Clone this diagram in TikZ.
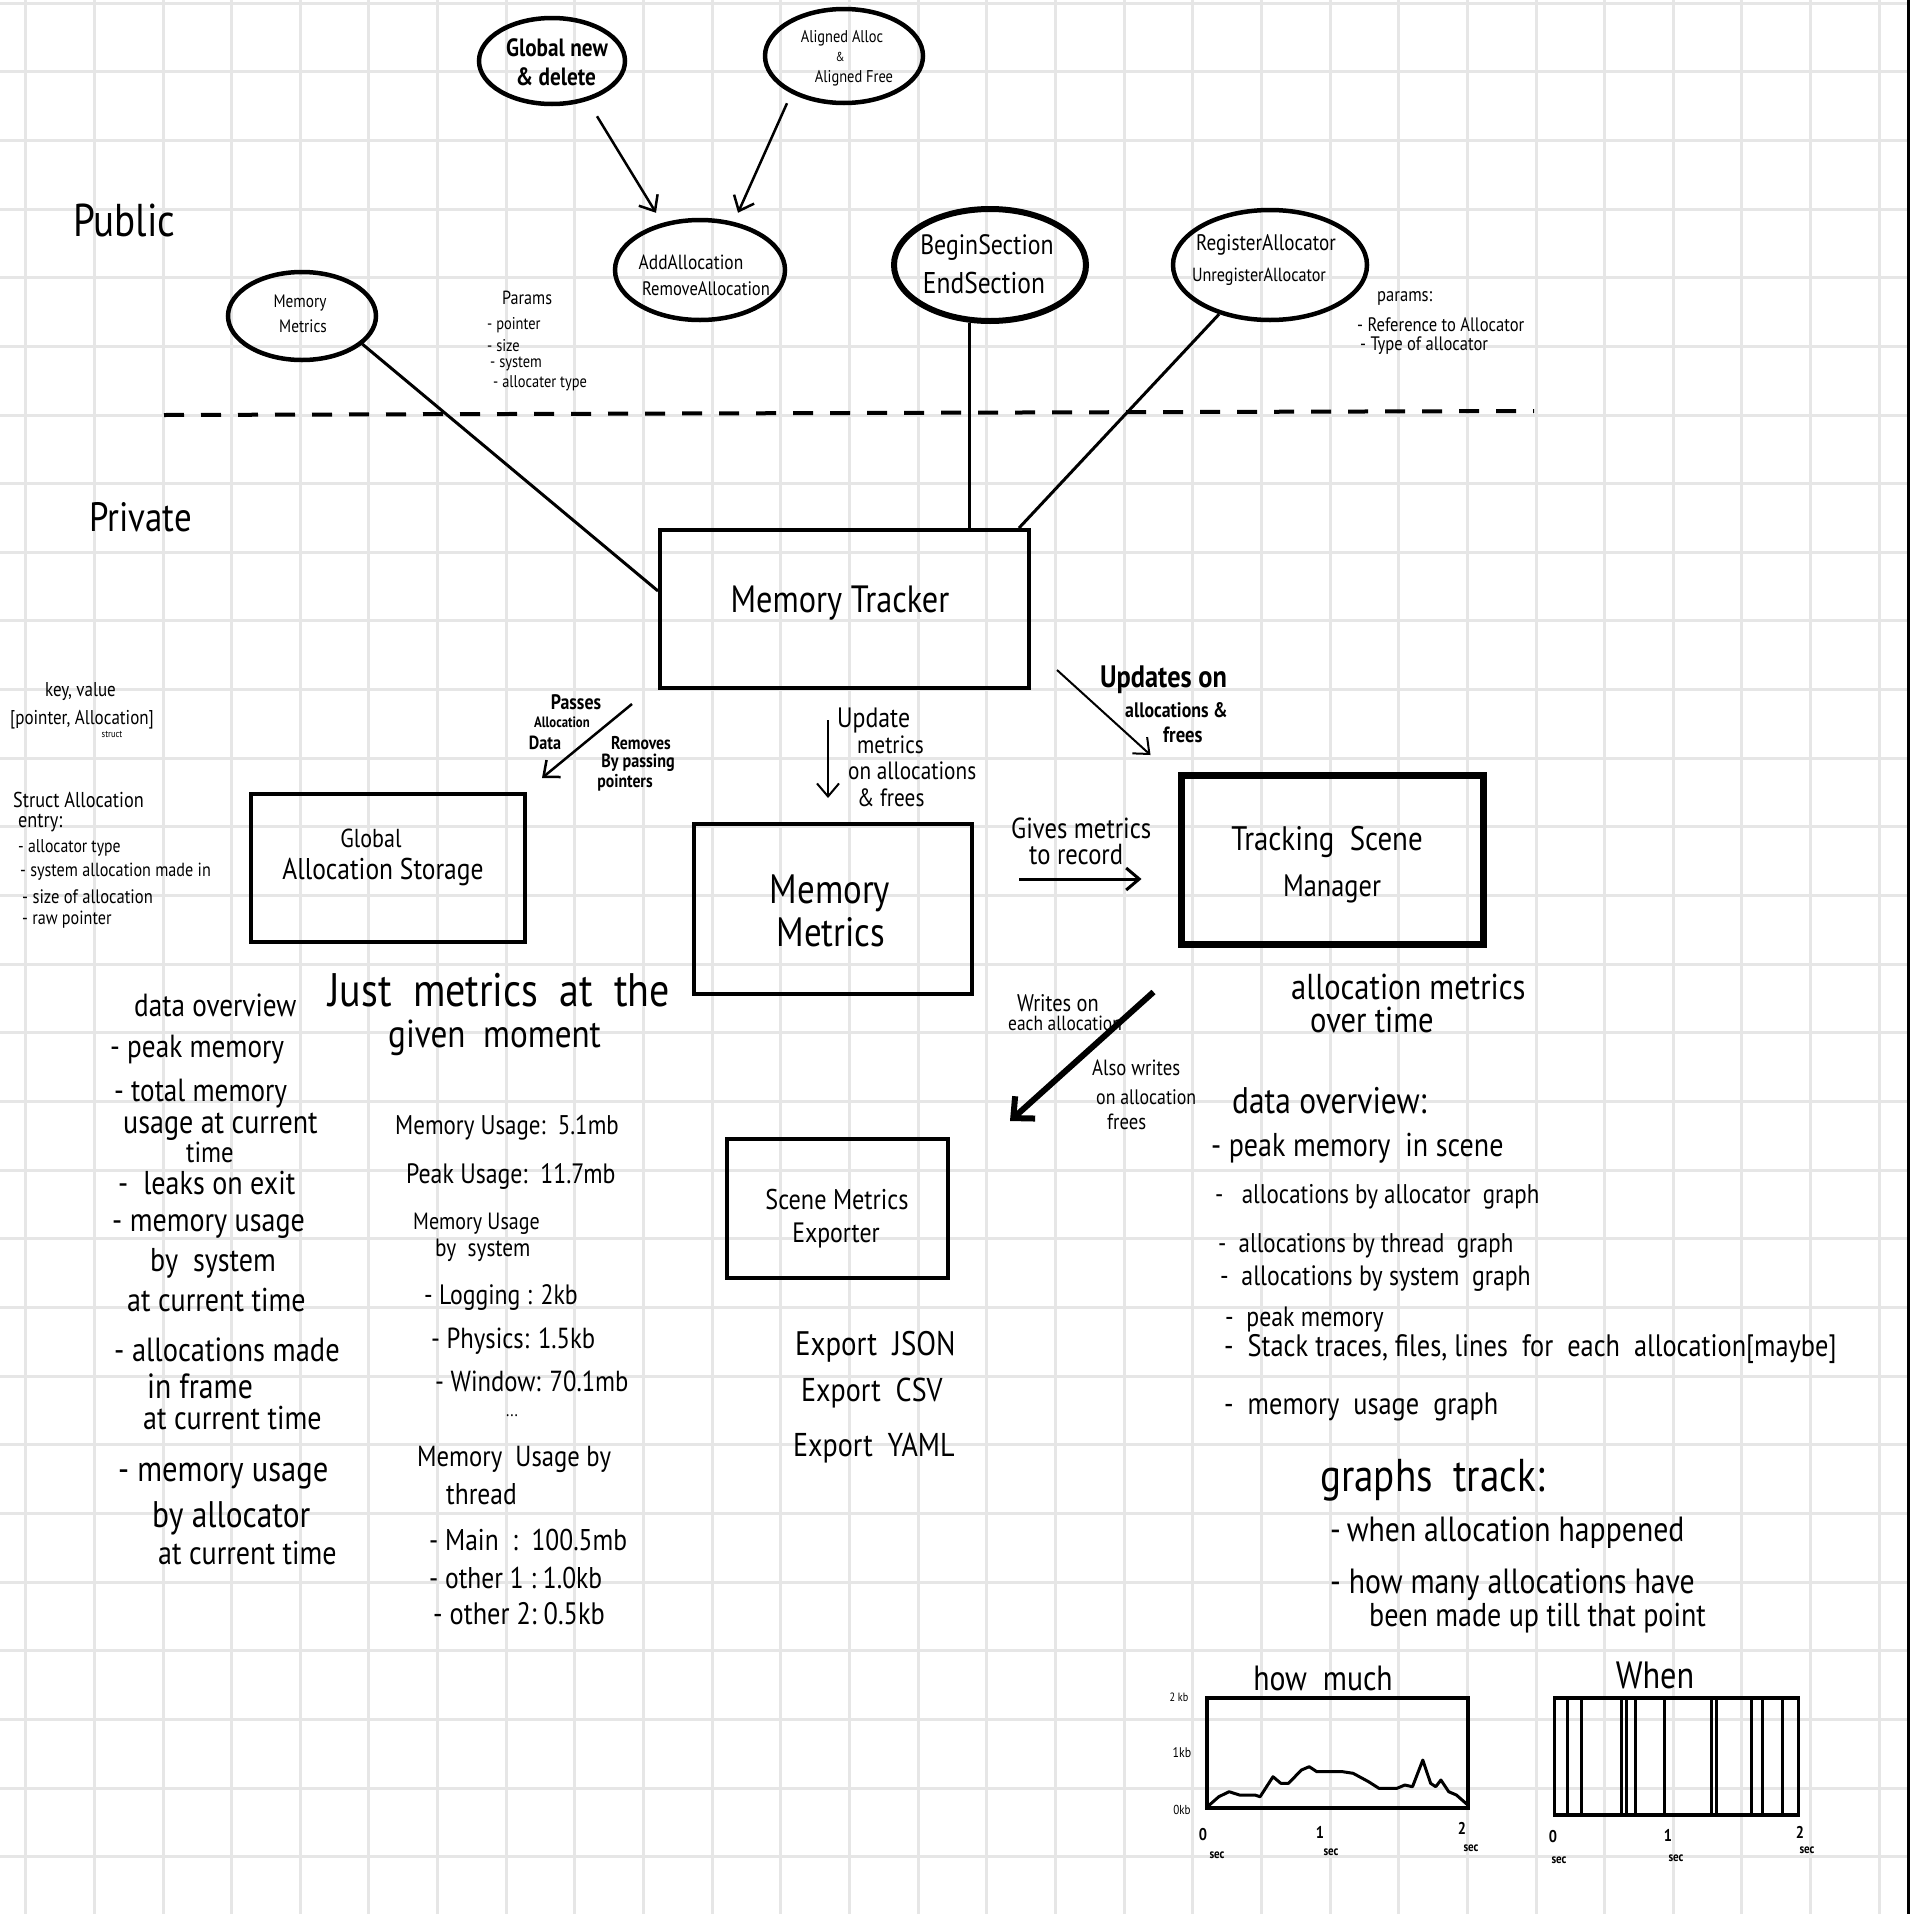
\documentclass[tikz,border=0pt]{standalone}
\usepackage{fontspec}
\setmainfont{PT Sans}[FakeStretch=0.85]
\usetikzlibrary{shapes.geometric,arrows.meta,calc}
\definecolor{gridgray}{HTML}{E6E6E6}
\newcommand\fsz[2]{\fontsize{#1}{#2}\selectfont}

\begin{document}
\begin{tikzpicture}[x=1pt,y=-1pt,
  gridline/.style={draw=gridgray,line width=3pt},
  ell/.style={ellipse,draw,line width=4.5pt,inner sep=0pt},
  box/.style={rectangle,draw,line width=4pt,inner sep=0pt},
  link/.style={line width=3pt},
  flow/.style={line width=2.5pt,-{Straight Barb[length=13pt,width=22pt]}},
  bigflow/.style={line width=6pt,-{Straight Barb[length=16pt,width=30pt]}},
  lbl/.style={anchor=west,inner sep=0pt},
  lblc/.style={inner sep=0pt},
]
\useasboundingbox (0,0) rectangle (1910,1914);
\fill[white] (0,0) rectangle (1910,1914);

% squared paper
\foreach \i in {0,...,27} \draw[gridline] ({25.7+68.65*\i},0) -- ++(0,1914);
\foreach \j in {0,...,27} \draw[gridline] (0,{3.1+68.65*\j}) -- ++(1910,0);
\draw[line width=3pt] (1908.5,0) -- (1908.5,1914);

% ---------- public interface ----------
\node[ell,minimum width=146,minimum height=86] (gnd) at (552,61) {};
\node[lblc,font=\bfseries\fsz{25}{25}] (gnd1) at (557,48) {Global new};
\node[lblc,font=\bfseries\fsz{25}{25}] (gnd2) at (556,77) {\& delete};

\node[ell,minimum width=158,minimum height=94] (aal) at (844,56) {};
\node[lblc,font=\fsz{17}{17}] (aal1) at (842,38) {Aligned Alloc};
\node[lblc,font=\fsz{13}{13}] (aal2) at (840,57) {\&};
\node[lblc,font=\fsz{17}{17}] (aal3) at (854,78) {Aligned Free};

\node[ell,minimum width=170,minimum height=100] (aa) at (700,270) {};
\node[lblc,font=\fsz{20.5}{20.5}] (aa1) at (691,262) {AddAllocation};
\node[lblc,font=\fsz{19.5}{19.5}] (aa2) at (706,289) {RemoveAllocation};

\node[ell,minimum width=148,minimum height=88] (mme) at (302,316) {};
\node[lblc,font=\fsz{18}{18}] (mme1) at (300,303) {Memory};
\node[lblc,font=\fsz{18}{18}] (mme2) at (303,326) {Metrics};

\node[ell,line width=6pt,minimum width=192,minimum height=112] (bs) at (990,265) {};
\node[lblc,font=\fsz{28}{28}] (bs1) at (987,247) {BeginSection};
\node[lblc,font=\fsz{30}{30}] (bs2) at (984,283) {EndSection};

\node[ell,minimum width=194,minimum height=110] (ra) at (1270,265) {};
\node[lblc,font=\fsz{22.5}{22.5}] (ra1) at (1266,245) {RegisterAllocator};
\node[lblc,font=\fsz{19}{19}] (ra2) at (1259,277) {UnregisterAllocator};

\node[lbl,font=\fsz{46}{46}] (pub) at (73,220) {Public};
\node[lbl,font=\fsz{41}{41}] (priv) at (89,517) {Private};

% parameter notes
\node[lbl,font=\fsz{19}{19}] (pa0) at (502,298) {Params};
\node[lbl,font=\fsz{17}{17}] (pa1) at (487,325) {- pointer};
\node[lbl,font=\fsz{17}{17}] (pa2) at (487,346) {- size};
\node[lbl,font=\fsz{17}{17}] (pa3) at (490,364) {- system};
\node[lbl,font=\fsz{17}{17}] (pa4) at (493,383) {- allocater type};

\node[lbl,font=\fsz{19.5}{19.5}] (pr0) at (1377,298) {params:};
\node[lbl,font=\fsz{19.5}{19.5}] (pr1) at (1357,325) {- Reference to Allocator};
\node[lbl,font=\fsz{19.5}{19.5}] (pr2) at (1360,346) {- Type of allocator};

% public / private divider
\coordinate (dl1) at (164,415);
\coordinate (dl2) at (1534,411);
\draw[line width=4pt,dash pattern=on 20pt off 17pt] (dl1) -- (dl2);

% ---------- core ----------
\node[box,minimum width=369,minimum height=158] (tracker) at (844.5,609) {};
\node[lblc,font=\fsz{38}{38}] (trackert) at (840,603) {Memory Tracker};

\node[box,minimum width=274,minimum height=148] (storage) at (388,868) {};
\node[lblc,font=\fsz{26}{26}] (storaget1) at (371,838) {Global};
\node[lblc,font=\fsz{30}{30}] (storaget2) at (383,872) {Allocation Storage};

\node[box,minimum width=278,minimum height=170] (mmb) at (833,909) {};
\node[lblc,font=\fsz{41}{41}] (mmbt1) at (830,893) {Memory};
\node[lblc,font=\fsz{41}{41}] (mmbt2) at (831,932) {Metrics};

\node[box,line width=7pt,minimum width=302,minimum height=169] (tsm) at (1332,860) {};
\node[lblc,font=\fsz{34}{34}] (tsmt1) at (1327,842) {Tracking\ \ Scene};
\node[lblc,font=\fsz{31}{31}] (tsmt2) at (1332,889) {Manager};

\node[box,minimum width=221,minimum height=139] (sme) at (837.5,1208.5) {};
\node[lblc,font=\fsz{28.5}{28.5}] (smet1) at (837,1200) {Scene Metrics};
\node[lblc,font=\fsz{28}{28}] (smet2) at (836,1235) {Exporter};

% interface calls into the tracker
\draw[flow] ($(gnd.south)+(45,10)$) -- ($(aa.north)+(-44,-5)$);
\draw[flow] ($(aal.south)+(-57,-2)$) -- ($(aa.north)+(38,-5)$);
\draw[link] (mme.-25) -- ($(tracker.north west)+(0,63)$);
\draw[link] ($(aa.south)+(3,0)$) -- ($(aa.south)+(3,0)$ |- tracker.north);
\draw[link] (bs.-110) -- (bs.-110 |- tracker.north);
\draw[link] (ra.-136.7) -- ($(tracker.north east)+(-12,0)$);

% data flow between the parts
\draw[flow] ($(tracker.south west)+(-26,14)$) -- ($(storage.north east)+(15,-14)$);
\draw[flow,line width=2pt] ($(tracker.south)+(-16.5,30)$) -- ($(mmb.north)+(-5,-24)$);
\draw[flow,line width=2pt] ($(tracker.south east)+(26,-20)$) -- ($(tsm.north west)+(-27,-17)$);
\draw[flow,line width=3pt] ($(mmb.east)+(45,-30)$) -- ($(tsm.west)+(-36,19)$);
\draw[bigflow] ($(tsm.south west)+(-24,44)$) -- ($(sme.north east)+(60,-16)$);

% arrow labels
\node[lblc,font=\bfseries\fsz{21}{21}] (lp1) at (576,702) {Passes};
\node[lblc,font=\bfseries\fsz{15}{15}] (lp2) at (562,722) {Allocation};
\node[lblc,font=\bfseries\fsz{19}{19}] (lp3) at (545,743) {Data};
\node[lblc,font=\bfseries\fsz{18.5}{18.5}] (lr1) at (641,743) {Removes};
\node[lblc,font=\bfseries\fsz{19}{19}] (lr2) at (638,763) {By passing};
\node[lblc,font=\bfseries\fsz{18.5}{18.5}] (lr3) at (625,783) {pointers};

\node[lbl,font=\fsz{28}{28}] (lu1) at (837,720) {Update};
\node[lbl,font=\fsz{25}{25}] (lu2) at (857,745) {metrics};
\node[lbl,font=\fsz{25}{25}] (lu3) at (848,771) {on allocations};
\node[lbl,font=\fsz{25}{25}] (lu4) at (857,798) {\& frees};

\node[lbl,font=\bfseries\fsz{31}{31}] (lo1) at (1100,680) {Updates on};
\node[lbl,font=\bfseries\fsz{21}{21}] (lo2) at (1125,710) {allocations \&};
\node[lbl,font=\bfseries\fsz{22}{22}] (lo3) at (1163,735) {frees};

\node[lbl,font=\fsz{29}{29}] (lg1) at (1011,828) {Gives metrics};
\node[lbl,font=\fsz{29}{29}] (lg2) at (1029,855) {to record};

\node[lbl,font=\fsz{24}{24}] (lw1) at (1017,1003) {Writes on};
\node[lbl,font=\fsz{20.5}{20.5}] (lw2) at (1008,1023) {each allocation};
\node[lbl,font=\fsz{22}{22}] (la1) at (1092,1068) {Also writes};
\node[lbl,font=\fsz{21}{21}] (la2) at (1096,1097) {on allocation};
\node[lbl,font=\fsz{22}{22}] (la3) at (1107,1122) {frees};

% ---------- storage notes ----------
\node[lbl,font=\fsz{20}{20}] (kv1) at (45,692) {key, value};
\node[lbl,font=\fsz{20}{20}] (kv2) at (10,720) {[pointer, Allocation]};
\node[lblc,font=\fsz{10}{10}] (kv3) at (112,734) {struct};
\node[lbl,font=\fsz{21.5}{21.5}] (st0) at (13,800) {Struct Allocation};
\node[lbl,font=\fsz{21.5}{21.5}] (st1) at (18,823) {entry:};
\node[lbl,font=\fsz{18.5}{18.5}] (st2) at (18,848) {- allocator type};
\node[lbl,font=\fsz{19}{19}] (st3) at (20,872) {- system allocation made in};
\node[lbl,font=\fsz{19.5}{19.5}] (st4) at (22,897) {- size of allocation};
\node[lbl,font=\fsz{19}{19}] (st5) at (22,920) {- raw pointer};

% ---------- memory metrics notes ----------
\node[lbl,font=\fsz{32}{32}] (dv0) at (134,1005) {data overview};
\node[lbl,font=\fsz{47}{47}] (jm1) at (328,990) {Just\ \ metrics\ \ at\ \ the};
\node[lbl,font=\fsz{39}{39}] (jm2) at (388,1038) {given\ \ moment};

\node[lbl,font=\fsz{32}{32}] (dl01) at (110,1050) {- peak memory};
\node[lbl,font=\fsz{32}{32}] (dl02) at (114,1094) {- total memory};
\node[lbl,font=\fsz{33}{33}] (dl03) at (123,1127) {usage at current};
\node[lbl,font=\fsz{29}{29}] (dl04) at (186,1152) {time};
\node[lbl,font=\fsz{33}{33}] (dl05) at (118,1183) {-\ \ leaks on exit};
\node[lbl,font=\fsz{33}{33}] (dl06) at (112,1227) {- memory usage};
\node[lbl,font=\fsz{33}{33}] (dl07) at (150,1263) {by\ \ system};
\node[lbl,font=\fsz{33}{33}] (dl08) at (127,1300) {at current time};
\node[lbl,font=\fsz{33.5}{33.5}] (dl09) at (114,1350) {- allocations made};
\node[lbl,font=\fsz{35}{35}] (dl10) at (147,1386) {in frame};
\node[lbl,font=\fsz{33}{33}] (dl11) at (143,1418) {at current time};
\node[lbl,font=\fsz{36}{36}] (dl12) at (118,1476) {- memory usage};
\node[lbl,font=\fsz{37}{37}] (dl13) at (152,1518) {by allocator};
\node[lbl,font=\fsz{33}{33}] (dl14) at (158,1553) {at current time};

\node[lbl,font=\fsz{27}{27}] (mv01) at (395,1128) {Memory Usage:\ \ 5.1mb};
\node[lbl,font=\fsz{28}{28}] (mv02) at (406,1176) {Peak Usage:\ \ 11.7mb};
\node[lbl,font=\fsz{23.5}{23.5}] (mv03) at (413,1224) {Memory Usage};
\node[lbl,font=\fsz{25}{25}] (mv04) at (435,1250) {by\ \ system};
\node[lbl,font=\fsz{28}{28}] (mv05) at (424,1297) {- Logging : 2kb};
\node[lbl,font=\fsz{29}{29}] (mv06) at (431,1341) {-\ Physics: 1.5kb};
\node[lbl,font=\fsz{29}{29}] (mv07) at (435,1381) {-\ Window: 70.1mb};
\node[lblc,font=\fsz{18}{18}] (mv08) at (512,1416) {...};
\node[lbl,font=\fsz{29}{29}] (mv09) at (417,1459) {Memory\ \ Usage by};
\node[lbl,font=\fsz{30}{30}] (mv10) at (446,1494) {thread};
\node[lbl,font=\fsz{30}{30}] (mv11) at (429,1540) {- Main\ \ :\ \ 100.5mb};
\node[lbl,font=\fsz{30}{30}] (mv12) at (429,1578) {- other 1 :\ 1.0kb};
\node[lbl,font=\fsz{31}{31}] (mv13) at (433,1614) {- other 2:\ 0.5kb};

% ---------- exporter notes ----------
\node[lbl,font=\fsz{34}{34}] (ex1) at (795,1347) {Export\ \ JSON};
\node[lbl,font=\fsz{33}{33}] (ex2) at (801,1393) {Export\ \ CSV};
\node[lbl,font=\fsz{33}{33}] (ex3) at (793,1448) {Export\ \ YAML};

% ---------- scene manager notes ----------
\node[lbl,font=\fsz{36}{36}] (am1) at (1291,987) {allocation metrics};
\node[lbl,font=\fsz{36}{36}] (am2) at (1310,1020) {over time};

\node[lbl,font=\fsz{37}{37}] (so0) at (1232,1101) {data overview:};
\node[lbl,font=\fsz{33}{33}] (so1) at (1211,1148) {- peak memory\ \ in scene};
\node[lbl,font=\fsz{27}{27}] (so2) at (1215,1197) {-\ \ \ allocations by allocator\ \ graph};
\node[lbl,font=\fsz{27}{27}] (so3) at (1218,1246) {-\ \ allocations by thread\ \ graph};
\node[lbl,font=\fsz{28}{28}] (so4) at (1220,1279) {-\ \ allocations by system\ \ graph};
\node[lbl,font=\fsz{28}{28}] (so5) at (1225,1320) {-\ \ peak memory};
\node[lbl,font=\fsz{31}{31}] (so6) at (1224,1349) {-\ \ Stack traces, files, lines\ \ for\ \ each\ \ allocation[maybe]};
\node[lbl,font=\fsz{31}{31}] (so7) at (1224,1407) {-\ \ memory\ \ usage\ \ graph};

\node[lbl,font=\fsz{46}{46}] (gt0) at (1320,1480) {graphs\ \ track:};
\node[lbl,font=\fsz{35}{35}] (gt1) at (1330,1533) {-\,when allocation happened};
\node[lbl,font=\fsz{35}{35}] (gt2) at (1330,1585) {-\ how many allocations have};
\node[lbl,font=\fsz{33}{33}] (gt3) at (1369,1618) {been made up till that point};

% ---------- sketch charts ----------
\node[lblc,font=\fsz{35}{35}] (hm) at (1323,1678) {how\ \ much};
\node[lblc,font=\fsz{38}{38}] (wh) at (1655,1675) {When};

\node[rectangle,draw,line width=3.5pt,minimum width=261,minimum height=110,inner sep=0pt] (g1) at (1337.5,1753) {};
\node[rectangle,draw,line width=3.5pt,minimum width=244,minimum height=117,inner sep=0pt] (g2) at (1676.4,1756.7) {};

\draw[line width=3pt,line join=round] plot coordinates {
 (1207.4,1806.7) (1218.8,1796.7) (1229.1,1791.7) (1239.5,1795) (1255,1795)
 (1260.1,1796.7) (1273,1776.7) (1280.8,1783.3) (1288.5,1783.3) (1301.4,1770)
 (1309.2,1766.7) (1316.9,1771.7) (1342.8,1771.7) (1353.1,1773.3) (1368.6,1781.7)
 (1378.9,1788.3) (1397,1788.3) (1404.8,1785) (1412.5,1786.7) (1422.8,1760)
 (1430.6,1783.3) (1435.7,1786.7) (1440.9,1780) (1448.7,1791.7) (1456.4,1795)
 (1467.8,1805)};

\foreach \vx in {1567.5,1581.9,1621.7,1626.9,1635.6,1664.6,1711.1,1716.2,1751.9,1762.2,1782.9}
  \draw[line width=3pt] (\vx,1698) -- (\vx,1815);

\node[lblc,font=\fsz{12}{12}] (y2) at (1179,1697) {2 kb};
\node[lblc,font=\fsz{14}{14}] (y1) at (1182,1753) {1kb};
\node[lblc,font=\fsz{13}{13}] (y0) at (1182,1810) {0kb};

\node[lblc,font=\bfseries\fsz{17}{17}] (ax0) at (1203,1835) {0};
\node[lblc,font=\bfseries\fsz{13}{13}] (as0) at (1217,1855) {sec};
\node[lblc,font=\bfseries\fsz{17}{17}] (ax1) at (1320,1832) {1};
\node[lblc,font=\bfseries\fsz{13}{13}] (as1) at (1331,1852) {sec};
\node[lblc,font=\bfseries\fsz{17}{17}] (ax2) at (1462,1828) {2};
\node[lblc,font=\bfseries\fsz{13}{13}] (as2) at (1471,1848) {sec};

\node[lblc,font=\bfseries\fsz{17}{17}] (bx0) at (1553,1837) {0};
\node[lblc,font=\bfseries\fsz{13}{13}] (bs0) at (1559,1860) {sec};
\node[lblc,font=\bfseries\fsz{17}{17}] (bx1) at (1668,1835) {1};
\node[lblc,font=\bfseries\fsz{13}{13}] (bs1) at (1676,1858) {sec};
\node[lblc,font=\bfseries\fsz{17}{17}] (bx2) at (1800,1832) {2};
\node[lblc,font=\bfseries\fsz{13}{13}] (bs2) at (1807,1850) {sec};
\end{tikzpicture}
\end{document}
